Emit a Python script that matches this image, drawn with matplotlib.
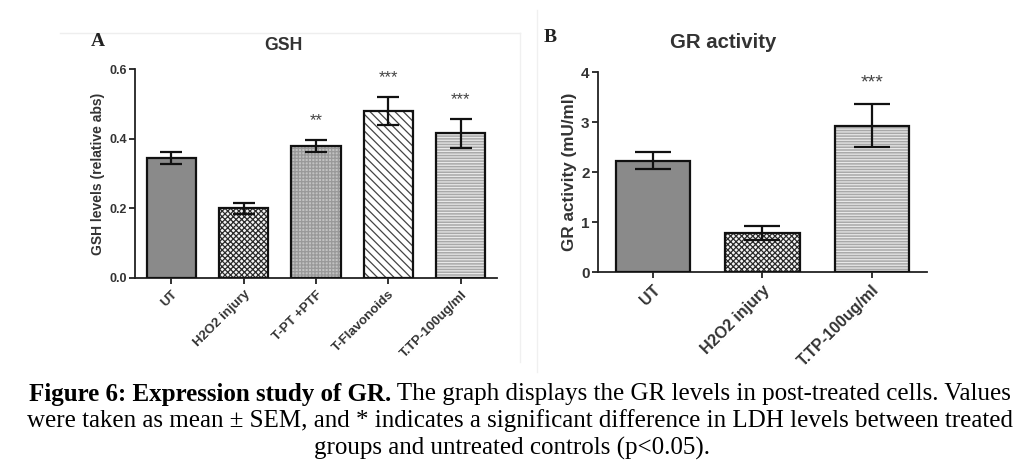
import matplotlib.pyplot as plt
import numpy as np

# panel A - GSH
gsh_groups = ["UT", "H2O2 injury", "T-PT +PTF", "T-Flavonoids", "T.TP-100ug/ml"]
gsh_mean = [0.345, 0.200, 0.380, 0.480, 0.415]
gsh_sem = [0.017, 0.015, 0.017, 0.040, 0.041]
gsh_stars = ["", "", "**", "***", "***"]

# panel B - GR activity
gr_groups = ["UT", "H2O2 injury", "T.TP-100ug/ml"]
gr_mean = [2.23, 0.78, 2.93]
gr_sem = [0.17, 0.14, 0.43]
gr_stars = ["", "", "***"]

# fill / hatch styles per group
styles = {
    "UT": dict(face="#8a8a8a", hatch="", hcol="#8a8a8a"),
    "H2O2 injury": dict(face="#f4f4f4", hatch="xxxxxx", hcol="#2a2a2a"),
    "T-PT +PTF": dict(face="#c2c2c2", hatch="+++++", hcol="#999999"),
    "T-Flavonoids": dict(face="#ffffff", hatch="\\\\\\\\", hcol="#444444"),
    "T.TP-100ug/ml": dict(face="#a8a8a8", hatch="------", hcol="#e8e8e8"),
}

SANS = ["Liberation Sans", "DejaVu Sans"]
plt.rcParams["font.family"] = SANS
plt.rcParams["hatch.linewidth"] = 0.9

fig = plt.figure(figsize=(10.24, 4.71), dpi=100)


def bar_panel(ax, groups, means, sems, stars, star_off, capsize, tick_fs, lab_fs, star_fs):
    x = np.arange(len(groups))
    for i, g in enumerate(groups):
        st = styles[g]
        ax.bar(x[i], means[i], width=0.68, color=st["face"], hatch=st["hatch"],
               edgecolor=st["hcol"], linewidth=0, zorder=2)
    ax.bar(x, means, width=0.68, fill=False, edgecolor="#111111", linewidth=1.6, zorder=3)
    ax.errorbar(x, means, yerr=sems, fmt="none", ecolor="#111111", elinewidth=1.6,
                capsize=capsize, capthick=1.6, zorder=4)
    for i, s in enumerate(stars):
        if s:
            ax.text(x[i], means[i] + sems[i] + star_off, s, ha="center", va="center",
                    fontsize=star_fs, color="#444444")
    ax.set_xlim(-0.5, len(groups) - 0.5)
    ax.set_xticks(x)
    ax.set_xticklabels(groups, rotation=45, ha="right", rotation_mode="anchor",
                       fontsize=lab_fs, fontweight="bold", color="#333333")
    for sp in ["top", "right"]:
        ax.spines[sp].set_visible(False)
    for sp in ["left", "bottom"]:
        ax.spines[sp].set_linewidth(1.3)
        ax.spines[sp].set_color("#222222")
    ax.tick_params(axis="both", direction="out", length=4, width=1.3, color="#222222")
    ax.tick_params(axis="y", labelsize=tick_fs, labelcolor="#333333", pad=2)
    for t in ax.get_yticklabels():
        t.set_fontweight("bold")


axA = fig.add_axes([0.1318, 0.4098, 0.3535, 0.4437])
axA.set_ylim(0, 0.6)
axA.set_yticks([0.0, 0.2, 0.4, 0.6])
axA.set_yticklabels(["0.0", "0.2", "0.4", "0.6"])
bar_panel(axA, gsh_groups, gsh_mean, gsh_sem, gsh_stars, 0.055, 8, 9, 9.5, 12)
axA.set_ylabel("GSH levels (relative abs)", fontsize=10, fontweight="bold",
               color="#333333", labelpad=3)

axB = fig.add_axes([0.584, 0.4225, 0.321, 0.4246])
axB.set_ylim(0, 4)
axB.set_yticks([0, 1, 2, 3, 4])
bar_panel(axB, gr_groups, gr_mean, gr_sem, gr_stars, 0.42, 13, 11, 11.5, 14)
axB.set_ylabel("GR activity (mU/ml)", fontsize=12.3, fontweight="bold",
               color="#333333", labelpad=3)

# titles and panel letters
fig.text(283 / 1024, 1 - 46 / 471, "GSH", ha="center", va="center",
         fontsize=12.7, fontweight="bold", color="#333333")
fig.text(723 / 1024, 1 - 42 / 471, "GR activity", ha="center", va="center",
         fontsize=14.7, fontweight="bold", color="#333333")
fig.text(98 / 1024, 1 - 42 / 471, "A", ha="center", va="center", fontsize=14,
         fontweight="bold", family=["Liberation Serif", "DejaVu Serif"], color="#222222")
fig.text(550 / 1024, 1 - 37 / 471, "B", ha="center", va="center", fontsize=14,
         fontweight="bold", family=["Liberation Serif", "DejaVu Serif"], color="#222222")

# faint panel frames
fig.add_artist(plt.Line2D([60 / 1024, 520 / 1024], [1 - 33 / 471, 1 - 33 / 471], color="#eeeeee", lw=1))
fig.add_artist(plt.Line2D([520 / 1024, 520 / 1024], [1 - 33 / 471, 1 - 362 / 471], color="#f0f0f0", lw=1))
fig.add_artist(plt.Line2D([537 / 1024, 537 / 1024], [1 - 10 / 471, 1 - 372 / 471], color="#f0f0f0", lw=1))

# caption
SERIF = ["Liberation Serif", "DejaVu Serif"]
cap_fs = 18
bold_part = "Figure 6: Expression study of GR."
rest_part = " The graph displays the GR levels in post-treated cells. Values"
line2 = "were taken as mean \u00b1 SEM, and * indicates a significant difference in LDH levels between treated"
line3 = "groups and untreated controls (p<0.05)."

renderer = fig.canvas.get_renderer()
tb = fig.text(0, 1 - 394 / 471, bold_part, fontsize=cap_fs, fontweight="bold",
              family=SERIF, va="center", ha="left")
tr = fig.text(0, 1 - 394 / 471, rest_part, fontsize=cap_fs, family=SERIF,
              va="center", ha="left")
wb = tb.get_window_extent(renderer).width
wr = tr.get_window_extent(renderer).width
x0 = (1040 - (wb + wr)) / 2
tb.set_x(x0 / 1024)
tr.set_x((x0 + wb) / 1024)
fig.text(520 / 1024, 1 - 421 / 471, line2, fontsize=cap_fs, family=SERIF, ha="center", va="center")
fig.text(512 / 1024, 1 - 448 / 471, line3, fontsize=cap_fs, family=SERIF, ha="center", va="center")

fig.savefig("out.png", dpi=100)
